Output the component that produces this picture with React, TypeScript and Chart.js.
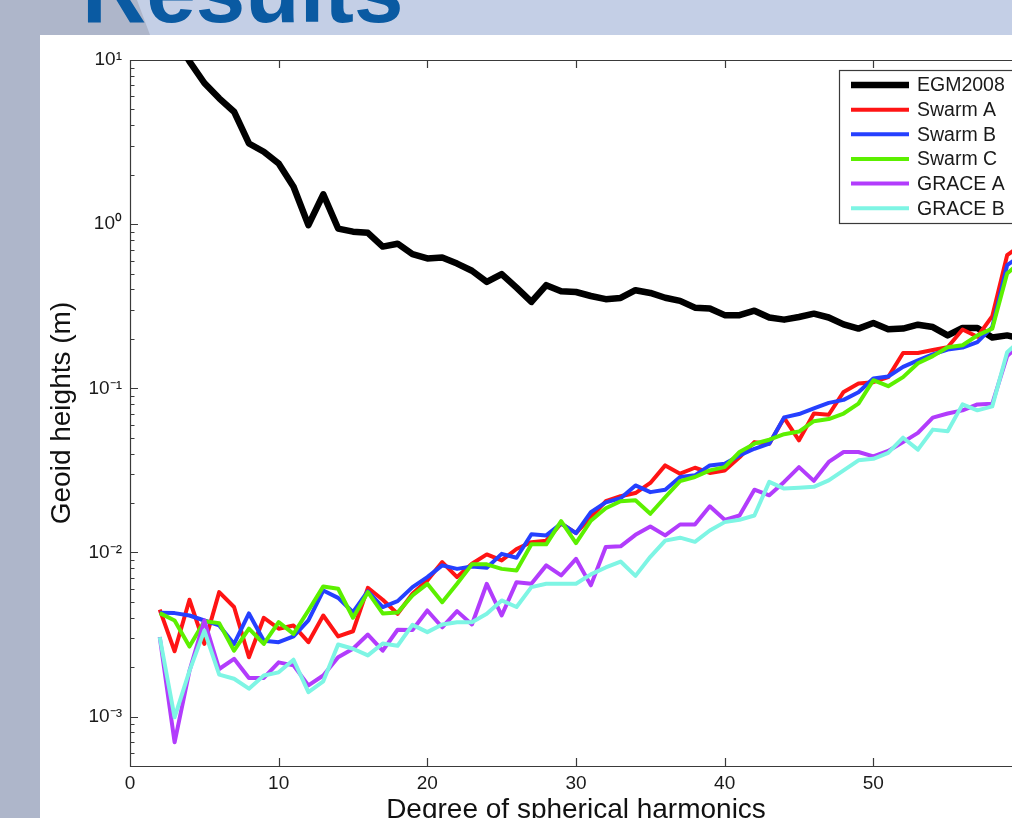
import React, { useEffect, useRef } from "react";
import { Chart, registerables } from "chart.js";

Chart.register(...registerables);

// ---------- data ----------
const degrees = [
  2, 3, 4, 5, 6, 7, 8, 9, 10, 11, 12, 13, 14, 15, 16, 17, 18, 19, 20, 21,
  22, 23, 24, 25, 26, 27, 28, 29, 30, 31, 32, 33, 34, 35, 36, 37, 38, 39, 40, 41,
  42, 43, 44, 45, 46, 47, 48, 49, 50, 51, 52, 53, 54, 55, 56, 57, 58, 59, 60,
];

const egm2008 = [
  32, 14, 9.8, 7.24, 5.84, 4.84, 3.1, 2.76, 2.34, 1.69, 0.986, 1.52, 0.94, 0.9, 0.885, 0.73, 0.76, 0.656, 0.618, 0.626,
  0.575, 0.52, 0.445, 0.496, 0.41, 0.336, 0.425, 0.39, 0.386, 0.365, 0.349, 0.355, 0.396, 0.381, 0.356, 0.341, 0.31, 0.306, 0.279, 0.279,
  0.297, 0.27, 0.262, 0.272, 0.285, 0.27, 0.245, 0.231, 0.25, 0.229, 0.231, 0.244, 0.236, 0.21, 0.233, 0.233, 0.204, 0.21, 0.2,
];

const swarmA = [
  0.00448, 0.0025, 0.00515, 0.00277, 0.00573, 0.00465, 0.0023, 0.004, 0.00343, 0.00359, 0.00284, 0.00413, 0.00308, 0.00331, 0.00609, 0.00515, 0.00423, 0.0056, 0.00675, 0.00873,
  0.00708, 0.00853, 0.00973, 0.00894, 0.0105, 0.01155, 0.0118, 0.015, 0.0131, 0.0164, 0.0205, 0.022, 0.023, 0.0265, 0.0339, 0.0302, 0.0328, 0.0305, 0.0316, 0.038,
  0.047, 0.046, 0.066, 0.0482, 0.0702, 0.069, 0.095, 0.107, 0.109, 0.117, 0.164, 0.164, 0.171, 0.178, 0.228, 0.206, 0.275, 0.647, 0.75,
];

const swarmB = [
  0.00429, 0.00427, 0.00413, 0.00385, 0.00359, 0.00277, 0.00425, 0.0029, 0.00284, 0.00308, 0.00385, 0.00586, 0.00529, 0.00432, 0.0058, 0.00465, 0.00505, 0.00615, 0.00708, 0.00834,
  0.00794, 0.00822, 0.00807, 0.0098, 0.00928, 0.0129, 0.0127, 0.015, 0.0131, 0.0176, 0.0202, 0.0214, 0.0256, 0.0233, 0.0241, 0.0288, 0.0295, 0.0339, 0.0347, 0.039,
  0.0428, 0.046, 0.0665, 0.0697, 0.0755, 0.0815, 0.085, 0.0945, 0.1146, 0.118, 0.135, 0.148, 0.161, 0.172, 0.177, 0.191, 0.236, 0.562, 0.65,
];

const swarmC = [
  0.00427, 0.00385, 0.00267, 0.00381, 0.00371, 0.00252, 0.00343, 0.00277, 0.00376, 0.00319, 0.00443, 0.00621, 0.00601, 0.004, 0.00573, 0.00425, 0.0043, 0.00547, 0.00644, 0.00498,
  0.00644, 0.00846, 0.00846, 0.00794, 0.00776, 0.0112, 0.0112, 0.0155, 0.0114, 0.0156, 0.0186, 0.0205, 0.0208, 0.0172, 0.0217, 0.0272, 0.0288, 0.0316, 0.0331, 0.0409,
  0.046, 0.0486, 0.0525, 0.0545, 0.063, 0.065, 0.0702, 0.0807, 0.112, 0.103, 0.117, 0.142, 0.157, 0.178, 0.183, 0.21, 0.231, 0.5, 0.6,
];

const graceA = [
  0.00305, 0.000697, 0.0019, 0.00385, 0.00195, 0.00225, 0.00172, 0.00172, 0.00214, 0.00205, 0.00155, 0.00178, 0.0023, 0.00259, 0.00316, 0.00252, 0.00338, 0.00337, 0.00443, 0.0035,
  0.00439, 0.00364, 0.00644, 0.00413, 0.00659, 0.00644, 0.00834, 0.00724, 0.00914, 0.0063, 0.0108, 0.0109, 0.0128, 0.0144, 0.0127, 0.0148, 0.0148, 0.0191, 0.0158, 0.0168,
  0.0241, 0.0223, 0.0269, 0.0331, 0.0273, 0.0356, 0.0409, 0.0409, 0.0385, 0.0415, 0.047, 0.0535, 0.0662, 0.0702, 0.0734, 0.0798, 0.0805, 0.157, 0.19,
];

const graceB = [
  0.00305, 0.00099, 0.0019, 0.00334, 0.0018, 0.0017, 0.00148, 0.00178, 0.00186, 0.00222, 0.00141, 0.00164, 0.00275, 0.00259, 0.00236, 0.00279, 0.0027, 0.00362, 0.00327, 0.00364,
  0.00376, 0.00376, 0.00423, 0.0051, 0.00465, 0.00615, 0.00644, 0.00644, 0.00644, 0.00735, 0.0081, 0.0088, 0.0072, 0.0094, 0.0118, 0.0123, 0.0116, 0.0136, 0.0153, 0.0158,
  0.0168, 0.0269, 0.0245, 0.0248, 0.0251, 0.0275, 0.0316, 0.0364, 0.0372, 0.0404, 0.05, 0.0423, 0.056, 0.0548, 0.0798, 0.0734, 0.0776, 0.166, 0.2,
];

const seriesNames = ["EGM2008", "Swarm A", "Swarm B", "Swarm C", "GRACE A", "GRACE B"];
const seriesValues = [egm2008, swarmA, swarmB, swarmC, graceA, graceB];

const xTickValues = [0, 10, 20, 30, 40, 50, 60];
const yTickValues = [1e-3, 1e-2, 1e-1, 1, 10];
const yTickLabels = ["10\u207B\u00B3", "10\u207B\u00B2", "10\u207B\u00B9", "10\u2070", "10\u00B9"];

// ---------- styles ----------
const FONT = "'Liberation Sans', Arial, Helvetica, sans-serif";
const seriesColors = ["#000000", "#ff1414", "#2540ff", "#5cf000", "#b23cfc", "#7ef5e4"];
const seriesWidths = [6.5, 4, 4, 4, 4, 4];
const AXIS_COLOR = "#3a3a3a";

const matlabAxes = {
  id: "matlabAxes",
  beforeDatasetsDraw(chart: any) {
    const { ctx, chartArea: a, scales } = chart;
    const xs = scales.x;
    const ys = scales.y;
    ctx.save();
    ctx.strokeStyle = AXIS_COLOR;
    ctx.lineWidth = 1.2;
    ctx.beginPath();
    ctx.rect(a.left + 0.5, a.top + 0.5, a.right - a.left, a.bottom - a.top);
    // x ticks (inside, bottom & top)
    for (const v of xTickValues) {
      const px = Math.round(xs.getPixelForValue(v)) + 0.5;
      ctx.moveTo(px, a.bottom);
      ctx.lineTo(px, a.bottom - 8);
      ctx.moveTo(px, a.top);
      ctx.lineTo(px, a.top + 8);
    }
    // y major ticks
    for (const v of yTickValues) {
      const py = Math.round(ys.getPixelForValue(v)) + 0.5;
      ctx.moveTo(a.left, py);
      ctx.lineTo(a.left + 8, py);
      ctx.moveTo(a.right, py);
      ctx.lineTo(a.right - 8, py);
    }
    // y minor ticks
    for (let e = -4; e <= 0; e++) {
      const base = Math.pow(10, e);
      for (let m = 2; m <= 9; m++) {
        const v = m * base;
        if (v < ys.min || v > ys.max) continue;
        const py = Math.round(ys.getPixelForValue(v)) + 0.5;
        ctx.moveTo(a.left, py);
        ctx.lineTo(a.left + 4.5, py);
        ctx.moveTo(a.right, py);
        ctx.lineTo(a.right - 4.5, py);
      }
    }
    ctx.stroke();
    ctx.restore();
  },
};

const boxLegend = {
  id: "boxLegend",
  afterDatasetsDraw(chart: any) {
    const { ctx, chartArea: a } = chart;
    const left = a.right - 183;
    const top = a.top + 10;
    const w = 174;
    const h = 153;
    ctx.save();
    ctx.fillStyle = "#ffffff";
    ctx.fillRect(left, top, w, h);
    ctx.strokeStyle = AXIS_COLOR;
    ctx.lineWidth = 1.2;
    ctx.strokeRect(left + 0.5, top + 0.5, w, h);
    ctx.font = `19.5px ${FONT}`;
    ctx.textAlign = "left";
    ctx.textBaseline = "middle";
    chart.data.datasets.forEach((ds: any, i: number) => {
      const cy = top + 15 + i * 24.65;
      ctx.beginPath();
      ctx.strokeStyle = ds.borderColor;
      ctx.lineWidth = ds.borderWidth;
      ctx.moveTo(left + 12, cy);
      ctx.lineTo(left + 70, cy);
      ctx.stroke();
      ctx.fillStyle = "#1a1a1a";
      ctx.fillText(ds.label, left + 78, cy + 1);
    });
    ctx.restore();
  },
};

export default function App() {
  const canvasRef = useRef<HTMLCanvasElement | null>(null);

  useEffect(() => {
    const canvas = canvasRef.current;
    if (!canvas) return;
    const datasets = seriesNames.map((name, i) => ({
      label: name,
      data: degrees.map((d, j) => ({ x: d, y: seriesValues[i][j] })),
      borderColor: seriesColors[i],
      backgroundColor: seriesColors[i],
      borderWidth: seriesWidths[i],
      pointRadius: 0,
      pointHoverRadius: 0,
      tension: 0,
      fill: false,
      borderJoinStyle: "round" as const,
      clip: 0,
      order: seriesNames.length - i,
    }));

    const chart = new Chart(canvas, {
      type: "line",
      data: { datasets },
      plugins: [matlabAxes, boxLegend],
      options: {
        responsive: false,
        animation: false,
        devicePixelRatio: 1,
        layout: { padding: { top: 25, right: 18, left: 0, bottom: 0 } },
        plugins: {
          legend: { display: false },
          tooltip: { enabled: false },
        },
        scales: {
          x: {
            type: "linear",
            position: "bottom",
            min: 0,
            max: 60,
            afterBuildTicks: (s: any) => {
              s.ticks = xTickValues.map((v) => ({ value: v }));
            },
            afterFit: (s: any) => {
              s.height = 89;
            },
            grid: { display: false, drawTicks: false },
            border: { display: false },
            ticks: {
              autoSkip: false,
              maxRotation: 0,
              padding: 6,
              color: "#1a1a1a",
              font: { family: FONT, size: 19 },
              callback: (v: any) => String(v),
            },
            title: {
              display: true,
              text: "Degree of spherical harmonics",
              color: "#111111",
              font: { family: FONT, size: 28 },
              padding: { top: 0, bottom: 28 },
            },
          },
          y: {
            type: "logarithmic",
            position: "left",
            min: 5e-4,
            max: 10,
            afterBuildTicks: (s: any) => {
              s.ticks = yTickValues.map((v) => ({ value: v }));
            },
            afterFit: (s: any) => {
              s.width = 90;
            },
            grid: { display: false, drawTicks: false },
            border: { display: false },
            ticks: {
              autoSkip: false,
              padding: 8,
              color: "#1a1a1a",
              font: { family: FONT, size: 19 },
              callback: (_v: any, index: number) => yTickLabels[index],
            },
            title: {
              display: true,
              text: "Geoid heights (m)",
              color: "#111111",
              font: { family: FONT, size: 28 },
              padding: { top: 5, bottom: 0 },
            },
          },
        },
      },
    } as any);

    return () => chart.destroy();
  }, []);

  return (
    <div
      style={{
        position: "fixed",
        left: 0,
        top: 0,
        width: 1012,
        height: 818,
        overflow: "hidden",
        background: "#ffffff",
      }}
    >
      <svg
        width={1012}
        height={818}
        style={{ position: "absolute", left: 0, top: 0 }}
      >
        <rect x={0} y={0} width={1012} height={35} fill="#c4cfe6" />
        <polygon points="0,0 137,0 150,35 40,35 40,818 0,818" fill="#aeb6ca" />
        <text
          x={82}
          y={22}
          fill="#0a5aa2"
          fontFamily="'Liberation Sans', Arial, Helvetica, sans-serif"
          fontWeight="bold"
          fontSize={89}
        >
          Results
        </text>
      </svg>
      <canvas
        ref={canvasRef}
        width={1000}
        height={820}
        style={{ position: "absolute", left: 40, top: 35, display: "block" }}
      />
    </div>
  );
}
